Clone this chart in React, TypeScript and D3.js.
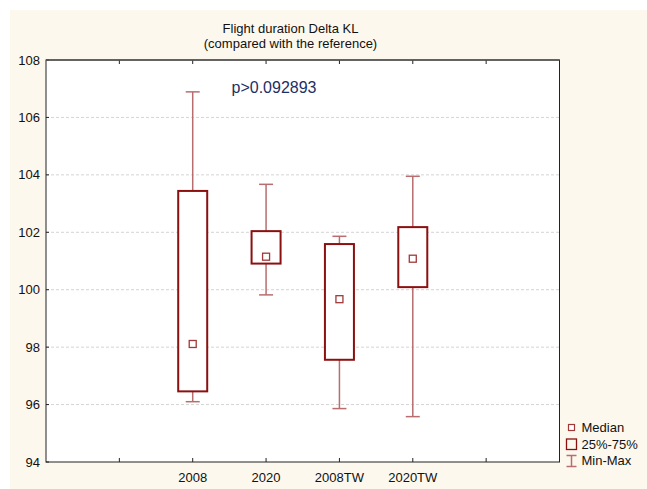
import React from "react";
import * as d3 from "d3";

const categories = ["2008", "2020", "2008TW", "2020TW"];
const minValues = [96.1, 99.82, 95.86, 95.58];
const q1Values = [96.46, 100.91, 97.56, 100.09];
const medianValues = [98.11, 101.15, 99.67, 101.08];
const q3Values = [103.44, 102.04, 101.59, 102.18];
const maxValues = [106.89, 103.67, 101.86, 103.95];
const yTicks = [94, 96, 98, 100, 102, 104, 106, 108];
const xTickPositions = [1, 2, 3, 4, 5, 6];
const legendLabels = ["Median", "25%-75%", "Min-Max"];
const titleLines = ["Flight duration Delta KL", "(compared with the reference)"];
const pText = "p>0.092893";

const W = 647;
const H = 489;
const left = 46;
const right = 559.5;
const top = 60;
const bottom = 462;

const BOX = "#8b1010";
const WHISK = "#b86e6e";
const FONT = "Arial, 'Liberation Sans', sans-serif";

export default function App() {
  const x = d3.scaleLinear().domain([0, 7]).range([left, right]);
  const y = d3.scaleLinear().domain([94, 108]).range([bottom, top]);
  const boxW = 29;
  const capW = 14;
  const medS = 7;

  return (
    <svg
      width={W}
      height={H}
      style={{ position: "fixed", left: 0, top: 0, fontFamily: FONT }}
    >
      <rect x={0} y={0} width={W} height={H} fill="#ffffff" />
      <rect x={10} y={10} width={W - 10} height={H - 10} fill="#fdf8ee" />
      {titleLines.map((t, i) => (
        <text
          key={t}
          x={290.5}
          y={32.5 + i * 15}
          textAnchor="middle"
          fontSize={13}
          fill="#111"
        >
          {t}
        </text>
      ))}
      <rect x={left} y={top} width={right - left} height={bottom - top} fill="#ffffff" />
      {yTicks
        .filter((v) => v !== 94 && v !== 108)
        .map((v) => (
          <line
            key={"g" + v}
            x1={left}
            x2={right}
            y1={y(v)}
            y2={y(v)}
            stroke="#d4d4d4"
            strokeWidth={1}
            strokeDasharray="3,2"
          />
        ))}
      {yTicks.map((v) => (
        <g key={"yt" + v}>
          <line x1={left} x2={left + 3} y1={y(v)} y2={y(v)} stroke="#222" />
          <text
            x={40}
            y={y(v)}
            dy="0.35em"
            textAnchor="end"
            fontSize={13}
            fill="#111"
          >
            {v}
          </text>
        </g>
      ))}
      {xTickPositions.map((p) => (
        <g key={"xt" + p}>
          <line x1={x(p)} x2={x(p)} y1={bottom} y2={bottom - 4} stroke="#222" />
          <line x1={x(p)} x2={x(p)} y1={top} y2={top + 4} stroke="#222" />
        </g>
      ))}
      {categories.map((c, i) => (
        <text
          key={"xl" + c}
          x={x(i + 2)}
          y={482}
          textAnchor="middle"
          fontSize={13}
          fill="#111"
        >
          {c}
        </text>
      ))}
      {categories.map((c, i) => {
        const cx = x(i + 2);
        return (
          <g key={"b" + c}>
            <line x1={cx} x2={cx} y1={y(maxValues[i])} y2={y(q3Values[i])} stroke={WHISK} strokeWidth={1.5} />
            <line x1={cx} x2={cx} y1={y(q1Values[i])} y2={y(minValues[i])} stroke={WHISK} strokeWidth={1.5} />
            <line x1={cx - capW / 2} x2={cx + capW / 2} y1={y(maxValues[i])} y2={y(maxValues[i])} stroke={WHISK} strokeWidth={1.5} />
            <line x1={cx - capW / 2} x2={cx + capW / 2} y1={y(minValues[i])} y2={y(minValues[i])} stroke={WHISK} strokeWidth={1.5} />
            <rect
              x={cx - boxW / 2}
              y={y(q3Values[i])}
              width={boxW}
              height={y(q1Values[i]) - y(q3Values[i])}
              fill="#ffffff"
              stroke={BOX}
              strokeWidth={2}
            />
            <rect
              x={cx - medS / 2}
              y={y(medianValues[i]) - medS / 2}
              width={medS}
              height={medS}
              fill="#ffffff"
              stroke="#a03a3a"
              strokeWidth={1.3}
            />
          </g>
        );
      })}
      <rect x={left} y={top} width={right - left} height={bottom - top} fill="none" stroke="#222" strokeWidth={1} />
      <line x1={left} x2={right} y1={top} y2={top} stroke="#555" strokeWidth={1.5} />
      <text x={231.5} y={92.5} fontSize={16} fill="#1c2f66">
        {pText}
      </text>
      {/* legend */}
      <rect x={568.5} y={424.5} width={6} height={6} fill="#fff" stroke="#a03a3a" strokeWidth={1.2} />
      <rect x={566.5} y={439} width={10} height={10.5} fill="none" stroke={BOX} strokeWidth={1.3} />
      <line x1={571.5} x2={571.5} y1={455.5} y2={466.5} stroke={WHISK} strokeWidth={1.5} />
      <line x1={566.5} x2={576.5} y1={455.5} y2={455.5} stroke={WHISK} strokeWidth={1.5} />
      <line x1={566.5} x2={576.5} y1={466.5} y2={466.5} stroke={WHISK} strokeWidth={1.5} />
      {legendLabels.map((l, i) => (
        <text key={l} x={581.5} y={432.3 + i * 16.5} fontSize={13} fill="#111">
          {l}
        </text>
      ))}
    </svg>
  );
}
